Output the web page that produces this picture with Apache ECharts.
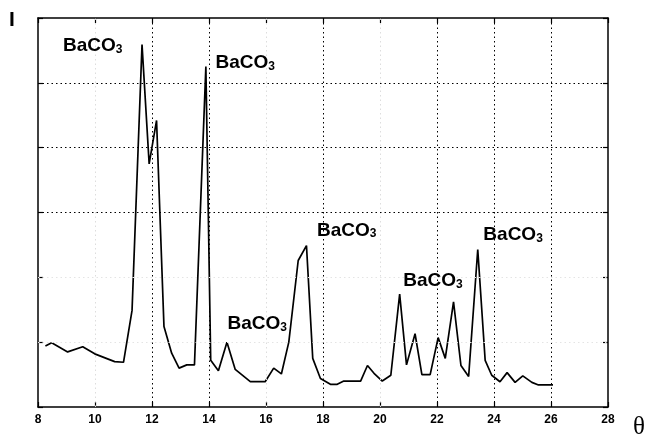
<!DOCTYPE html>
<html>
<head>
<meta charset="utf-8">
<script src="https://cdn.jsdelivr.net/npm/echarts@6/dist/echarts.min.js"></script>
<style>html,body{margin:0;padding:0;background:#fff}#c{width:649px;height:438px}</style>
</head>
<body>
<div id="c"></div>
<script>
// Diffraction pattern: angle (theta) vs intensity (I)
var thetaValues = [8.26, 8.48, 9.04, 9.57, 9.99, 10.69, 11.0, 11.3, 11.65, 11.9, 12.16, 12.42, 12.69, 12.95, 13.22, 13.49, 13.89, 14.06, 14.33, 14.63, 14.92, 15.45, 15.97, 16.27, 16.54, 16.8, 17.13, 17.42, 17.64, 17.91, 18.26, 18.5, 18.73, 19.32, 19.56, 19.79, 20.08, 20.38, 20.69, 20.93, 21.23, 21.47, 21.76, 22.04, 22.29, 22.58, 22.84, 23.11, 23.43, 23.69, 23.92, 24.21, 24.46, 24.74, 25.01, 25.33, 25.56, 26.07];
var intensityValues = [0.94, 0.99, 0.85, 0.93, 0.82, 0.70, 0.69, 1.49, 5.59, 3.75, 4.42, 1.24, 0.83, 0.60, 0.65, 0.65, 5.25, 0.72, 0.56, 1.00, 0.58, 0.39, 0.39, 0.60, 0.51, 1.00, 2.26, 2.49, 0.75, 0.44, 0.35, 0.35, 0.40, 0.40, 0.64, 0.52, 0.40, 0.49, 1.74, 0.65, 1.13, 0.50, 0.50, 1.07, 0.75, 1.62, 0.64, 0.47, 2.43, 0.72, 0.49, 0.39, 0.53, 0.38, 0.48, 0.38, 0.34, 0.34];
var xTickLabels = ['8', '10', '12', '14', '16', '18', '20', '22', '24', '26', '28'];
var peakLabelX = [9.92, 15.27, 15.69, 18.83, 21.86, 24.67];
var peakLabelY = [5.57, 5.31, 1.28, 2.72, 1.94, 2.65];
var peakLabelText = ['BaCO', 'BaCO', 'BaCO', 'BaCO', 'BaCO', 'BaCO'];
var gridLinesX = [12, 14, 18, 22, 24, 26];
var fadedGridLinesX = [10, 16, 20];
var gridLinesY = [3, 4, 5];
var fadedGridLinesY = [1, 2];

var lineData = thetaValues.map(function (t, i) { return [t, intensityValues[i]]; });
var labelData = peakLabelX.map(function (x, i) { return [x, peakLabelY[i], peakLabelText[i]]; });

var dotted = [1.5, 3];
var labelFont = 'Liberation Sans, Arial, sans-serif';
var chart = echarts.init(document.getElementById('c'), null, {renderer: 'canvas'});
var axisCommon = {
  type: 'value', min: 8, max: 28, interval: 2,
  axisLine: {show: true, onZero: false, lineStyle: {color: '#000', width: 1.5}},
  axisTick: {show: true, inside: true, length: 5, lineStyle: {color: '#000', width: 1.2}},
  splitLine: {show: false}
};
var yCommon = {
  type: 'value', min: 0, max: 6, interval: 1,
  axisLine: {show: true, onZero: false, lineStyle: {color: '#000', width: 1.5}},
  axisTick: {show: true, inside: true, length: 5, lineStyle: {color: '#000', width: 1.2}},
  axisLabel: {show: false},
  splitLine: {show: false}
};
chart.setOption({
  animation: false,
  backgroundColor: '#fff',
  grid: {left: 38, right: 41, top: 18, bottom: 31},
  xAxis: [
    Object.assign({}, axisCommon, {
      position: 'bottom',
      axisLabel: {
        show: true, margin: 7, color: '#000', fontSize: 12, fontWeight: 'bold',
        fontFamily: labelFont,
        formatter: function (v) { var i = Math.round((v - 8) / 2); return xTickLabels[i] || ''; }
      }
    }),
    Object.assign({}, axisCommon, {position: 'top', axisLabel: {show: false}})
  ],
  yAxis: [
    Object.assign({}, yCommon, {position: 'left'}),
    Object.assign({}, yCommon, {position: 'right'})
  ],
  graphic: [
    {type: 'text', left: 9, top: 10, style: {text: 'I', fontSize: 21, fontWeight: 'bold', fontFamily: labelFont, fill: '#000'}},
    {type: 'text', left: 633, top: 415, style: {text: 'θ', fontSize: 25, fontFamily: 'Liberation Serif, Times New Roman, serif', fill: '#000'}}
  ],
  series: [
    {
      type: 'line', data: lineData, showSymbol: false, symbol: 'none',
      lineStyle: {color: '#000', width: 1.7}, z: 3,
      markLine: {
        silent: true, symbol: ['none', 'none'], label: {show: false}, animation: false,
        data: gridLinesX.map(function (v) { return {xAxis: v, lineStyle: {color: '#000', type: dotted, width: 1}}; })
          .concat(fadedGridLinesX.map(function (v) { return {xAxis: v, lineStyle: {color: '#ddd', type: dotted, width: 1}}; }))
          .concat(gridLinesY.map(function (v) { return {yAxis: v, lineStyle: {color: '#000', type: dotted, width: 1}}; }))
          .concat(fadedGridLinesY.map(function (v) { return {yAxis: v, lineStyle: {color: '#e4e4e4', type: dotted, width: 1}}; }))
      }
    },
    {
      type: 'scatter', data: labelData, symbolSize: 1, itemStyle: {color: 'rgba(0,0,0,0)', opacity: 1}, z: 5,
      label: {
        show: true, position: 'inside', color: '#000', opacity: 1,
        formatter: function (p) { return '{a|' + p.data[2] + '}{b|3}'; },
        rich: {
          a: {fontSize: 19, fontWeight: 'bold', color: '#000', fontFamily: labelFont},
          b: {fontSize: 12, fontWeight: 'bold', color: '#000', verticalAlign: 'bottom', padding: [5, 0, 0, 0], fontFamily: labelFont}
        }
      }
    }
  ]
});
</script>
</body>
</html>
